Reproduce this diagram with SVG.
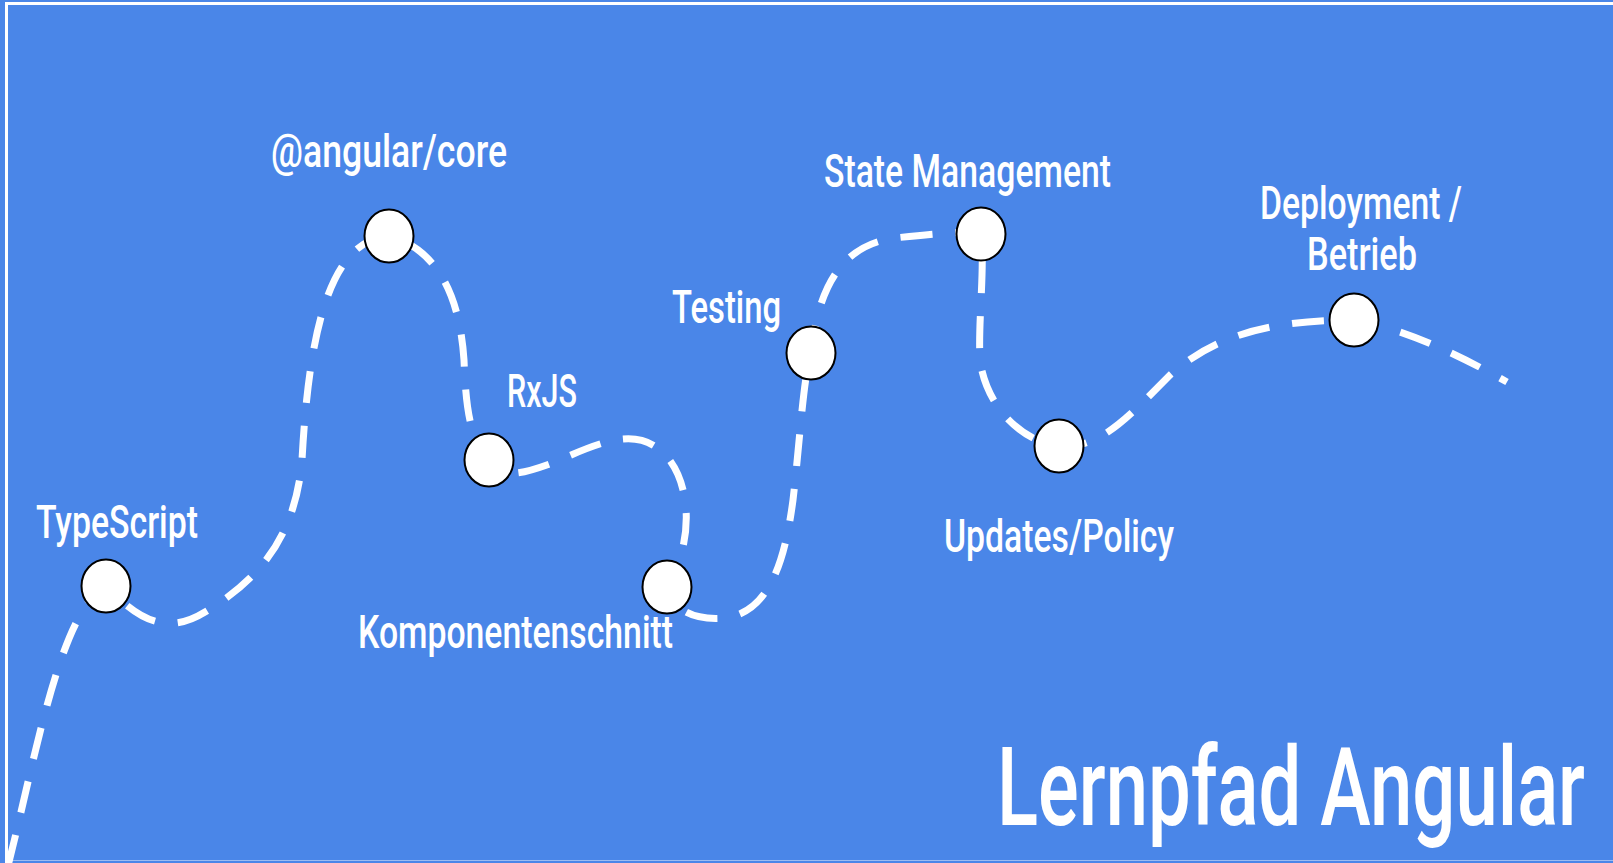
<svg xmlns="http://www.w3.org/2000/svg" width="1613" height="863" viewBox="0 0 1613 863">
  <style>
    .bg { fill: #4a86e8; }
    .frame { fill: none; stroke: #ffffff; stroke-width: 3; }
    .route { fill: none; stroke: #ffffff; stroke-width: 7; stroke-dasharray: 32 23; stroke-linecap: butt; }
    .dot { fill: #ffffff; stroke: #000000; stroke-width: 2; }
    .lbl { fill: #ffffff; font-family: "Roboto", "Liberation Sans", sans-serif; font-weight: 500; font-size: 46px; text-anchor: middle; }
    .title { fill: #ffffff; font-family: "Roboto", "Liberation Sans", sans-serif; font-weight: 500; font-size: 110px; text-anchor: end; }
  </style>
  <rect class="bg" x="0" y="0" width="1613" height="863"/>
  <path class="frame" d="M 1613 3.5 H 6.5 V 863"/>
  <line x1="6" y1="860.5" x2="1613" y2="860.5" stroke="#ffffff" stroke-opacity="0.45" stroke-width="1"/>

  <g id="connectors">
    <path class="route" d="M 8 866 C 35 760, 60 610, 106 586 C 130 610, 160 640, 205 612 C 250 585, 295 545, 302 460 C 309 330, 330 240, 389 236 C 440 250, 460 300, 464 360 C 466 410, 470 440, 489 459 C 500 478, 515 477, 555 462 C 605 440, 640 425, 668 458 C 690 485, 695 540, 667 587 C 675 615, 700 620, 725 618 C 770 612, 785 560, 793 500 C 800 440, 803 380, 811 353 C 818 290, 840 245, 895 238 C 930 234, 955 232, 981 232 C 985 270, 978 320, 980 360 C 985 400, 1015 440, 1059 446 C 1100 450, 1130 415, 1170 375 C 1210 340, 1260 320, 1354 320 C 1400 328, 1450 350, 1507 382"/>
  </g>

  <g id="typescript">
    <ellipse class="dot" cx="106" cy="586" rx="24.5" ry="26.5"/>
    <text class="lbl" x="117" y="538" textLength="162" lengthAdjust="spacingAndGlyphs">TypeScript</text>
  </g>
  <g id="angular-core">
    <ellipse class="dot" cx="389" cy="236" rx="24.5" ry="26.5"/>
    <text class="lbl" x="389" y="167" textLength="236" lengthAdjust="spacingAndGlyphs">@angular/core</text>
  </g>
  <g id="rxjs">
    <ellipse class="dot" cx="489" cy="460" rx="24.5" ry="26.5"/>
    <text class="lbl" x="542" y="407" textLength="70" lengthAdjust="spacingAndGlyphs">RxJS</text>
  </g>
  <g id="komponentenschnitt">
    <ellipse class="dot" cx="667" cy="587" rx="24.5" ry="26.5"/>
    <text class="lbl" x="515.5" y="648" textLength="315" lengthAdjust="spacingAndGlyphs">Komponentenschnitt</text>
  </g>
  <g id="testing">
    <ellipse class="dot" cx="811" cy="353" rx="24.5" ry="26.5"/>
    <text class="lbl" x="726.5" y="323" textLength="109" lengthAdjust="spacingAndGlyphs">Testing</text>
  </g>
  <g id="state-management">
    <ellipse class="dot" cx="981" cy="234" rx="24.5" ry="26.5"/>
    <text class="lbl" x="967.5" y="187" textLength="287" lengthAdjust="spacingAndGlyphs">State Management</text>
  </g>
  <g id="updates-policy">
    <ellipse class="dot" cx="1059" cy="446" rx="24.5" ry="26.5"/>
    <text class="lbl" x="1059" y="552" textLength="230" lengthAdjust="spacingAndGlyphs">Updates/Policy</text>
  </g>
  <g id="deployment">
    <ellipse class="dot" cx="1354" cy="320" rx="24.5" ry="26.5"/>
    <text class="lbl" x="1361" y="219" textLength="202" lengthAdjust="spacingAndGlyphs">Deployment /</text>
    <text class="lbl" x="1362" y="270" textLength="110" lengthAdjust="spacingAndGlyphs">Betrieb</text>
  </g>

  <g id="title">
    <text class="title" x="1585" y="825" textLength="588" lengthAdjust="spacingAndGlyphs">Lernpfad Angular</text>
  </g>
</svg>
